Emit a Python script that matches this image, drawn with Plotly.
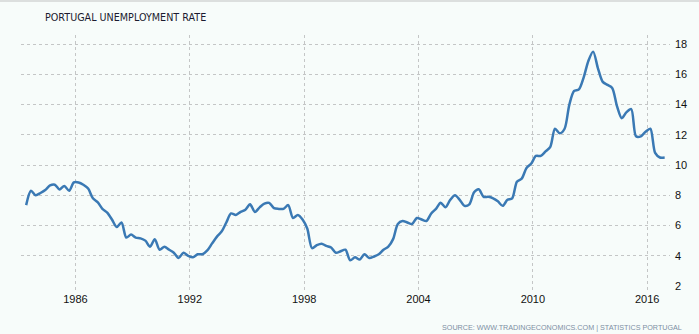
import plotly.graph_objects as go

# Quarterly unemployment rate (%), one row per year, quarters ending Mar/Jun/Sep/Dec
years = list(range(1983, 2017))
quarter_months = ["03", "06", "09", "12"]
rates_by_year = {
    1983: [None, 7.35, 8.3, 8.0],
    1984: [8.15, 8.35, 8.65, 8.7],
    1985: [8.38, 8.62, 8.3, 8.85],
    1986: [8.85, 8.7, 8.45, 7.8],
    1987: [7.55, 7.1, 6.85, 6.4],
    1988: [5.9, 6.2, 5.2, 5.4],
    1989: [5.2, 5.15, 5.0, 4.6],
    1990: [5.1, 4.4, 4.6, 4.4],
    1991: [4.2, 3.85, 4.2, 4.0],
    1992: [3.9, 4.1, 4.1, 4.35],
    1993: [4.8, 5.25, 5.6, 6.2],
    1994: [6.8, 6.7, 6.9, 7.05],
    1995: [7.4, 6.9, 7.2, 7.45],
    1996: [7.5, 7.15, 7.1, 7.1],
    1997: [7.35, 6.5, 6.7, 6.4],
    1998: [5.8, 4.5, 4.7, 4.8],
    1999: [4.65, 4.55, 4.2, 4.3],
    2000: [4.4, 3.7, 3.9, 3.75],
    2001: [4.1, 3.85, 3.95, 4.1],
    2002: [4.4, 4.6, 5.1, 6.1],
    2003: [6.3, 6.2, 6.1, 6.5],
    2004: [6.4, 6.3, 6.8, 7.1],
    2005: [7.5, 7.2, 7.7, 8.0],
    2006: [7.7, 7.3, 7.4, 8.2],
    2007: [8.4, 7.9, 7.9, 7.8],
    2008: [7.6, 7.3, 7.7, 7.8],
    2009: [8.9, 9.1, 9.8, 10.1],
    2010: [10.6, 10.6, 10.9, 11.2],
    2011: [12.4, 12.1, 12.4, 14.0],
    2012: [14.9, 15.0, 15.8, 16.9],
    2013: [17.5, 16.4, 15.5, 15.3],
    2014: [15.1, 13.9, 13.1, 13.5],
    2015: [13.7, 11.9, 11.9, 12.2],
    2016: [12.4, 10.8, 10.5, 10.5],
}

dates = []
rates = []
for y in years:
    for m, v in zip(quarter_months, rates_by_year[y]):
        if v is not None:
            dates.append(f"{y}-{m}-01")
            rates.append(v)

x_ticks = [f"{y}-01-01" for y in range(1986, 2017, 6)]
x_tick_labels = [str(y) for y in range(1986, 2017, 6)]
y_ticks = list(range(2, 19, 2))

title_text = "PORTUGAL UNEMPLOYMENT RATE"
source_text = "SOURCE: WWW.TRADINGECONOMICS.COM | STATISTICS PORTUGAL"

bg = "#f7fcfa"
grid = "#c4c6c6"
plot_top, plot_h = 35, 251  # px, used to place paper-referenced decorations

def paper_y(px):
    return (plot_top + plot_h - px) / plot_h

fig = go.Figure(
    go.Scatter(
        x=dates,
        y=rates,
        mode="lines",
        line=dict(color="#3a79b4", width=2.5, shape="spline", smoothing=0.8),
        hoverinfo="x+y",
    )
)

fig.update_layout(
    width=699,
    height=334,
    margin=dict(l=21, r=23, t=plot_top, b=334 - plot_top - plot_h),
    paper_bgcolor=bg,
    plot_bgcolor=bg,
    showlegend=False,
    font=dict(family="Liberation Sans, Arial, sans-serif", size=10, color="#111111"),
    xaxis=dict(
        type="date",
        range=["1983-02-22", "2017-03-13"],
        tickvals=x_ticks,
        ticktext=x_tick_labels,
        showgrid=True,
        gridcolor=grid,
        griddash="dot",
        gridwidth=1,
        zeroline=False,
        showline=False,
        ticks="outside",
        ticklen=3,
        tickcolor=grid,
        tickfont=dict(size=11, color="#111111"),
    ),
    yaxis=dict(
        range=[2, 18.6],
        side="right",
        tickvals=y_ticks,
        showgrid=True,
        gridcolor=grid,
        griddash="dot",
        gridwidth=1,
        zeroline=False,
        showline=False,
        ticks="",
        ticklabelstandoff=4,
        tickfont=dict(size=11, color="#111111"),
    ),
    shapes=[
        dict(type="rect", xref="paper", yref="paper", x0=-0.05, x1=1.05,
             y0=paper_y(2), y1=paper_y(0), line=dict(width=0), fillcolor="#dcdfde"),
    ],
    annotations=[
        dict(text=title_text, xref="paper", yref="paper", x=0.034, y=paper_y(17),
             xanchor="left", yanchor="middle", showarrow=False,
             font=dict(family="DejaVu Sans, sans-serif", size=9.6, color="#1b1b30")),
        dict(text=source_text, xref="paper", yref="paper", x=1.022, y=paper_y(327),
             xanchor="right", yanchor="middle", showarrow=False,
             font=dict(family="Liberation Sans, Arial, sans-serif", size=7.2, color="#7d8fa3")),
    ],
)

fig.write_html("out.html")
